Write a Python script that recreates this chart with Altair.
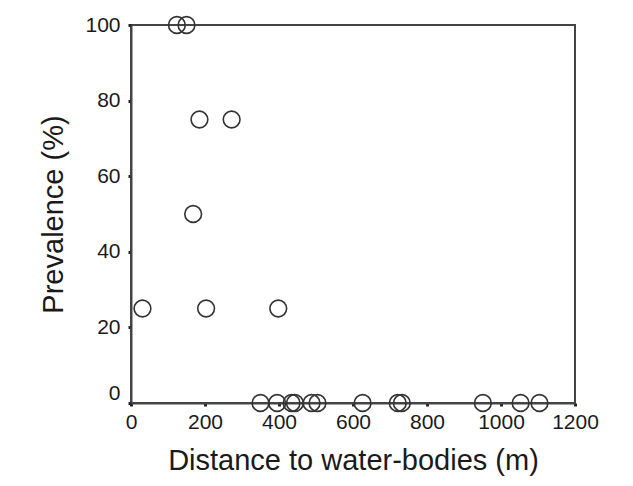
import altair as alt
import pandas as pd

distance = [124, 150, 185, 272, 168, 31, 203, 398,
            350, 395, 434, 443, 488, 504, 626, 721, 732, 951, 1053, 1104]
prevalence = [100, 100, 75, 75, 50, 25, 25, 25,
              0, 0, 0, 0, 0, 0, 0, 0, 0, 0, 0, 0]
x_ticks = [0, 200, 400, 600, 800, 1000, 1200]
y_ticks = [0, 20, 40, 60, 80, 100]

df = pd.DataFrame({"distance": distance, "prevalence": prevalence})

axis_common = dict(
    domainColor="#444444", domainWidth=2,
    tickColor="#222222", tickSize=3, tickWidth=3,
    labelColor="#1a1a1a", labelFont="Liberation Sans", labelFontSize=21,
    titleColor="#1a1a1a", titleFont="Liberation Sans", titleFontWeight="normal",
    grid=False, format="d",
)

chart = alt.Chart(df).mark_point(
    shape="circle", filled=False, size=280, stroke="#333333", strokeWidth=1.6, opacity=1
).encode(
    x=alt.X("distance:Q",
            scale=alt.Scale(domain=[0, 1200], nice=False, zero=False),
            axis=alt.Axis(values=x_ticks, title="Distance to water-bodies (m)",
                          titleFontSize=29, labelPadding=5, titlePadding=14,
                          labelFlush=False, **axis_common)),
    y=alt.Y("prevalence:Q",
            scale=alt.Scale(domain=[0, 100], nice=False, zero=False),
            axis=alt.Axis(values=y_ticks, title="Prevalence (%)",
                          titleFontSize=29, labelPadding=8, titlePadding=16,
                          labelFlush=False,
                          labelOffset={"condition": {"test": "datum.value === 0", "value": -10}, "value": 0},
                          **axis_common)),
).properties(
    width=444, height=378,
    autosize=alt.AutoSizeParams(type="none"),
    padding={"left": 131, "top": 25, "right": 58, "bottom": 83},
    background="white",
).configure_view(
    stroke="#444444", strokeWidth=2
)

chart.save("out.html", embed_options={"renderer": "svg", "actions": False})
